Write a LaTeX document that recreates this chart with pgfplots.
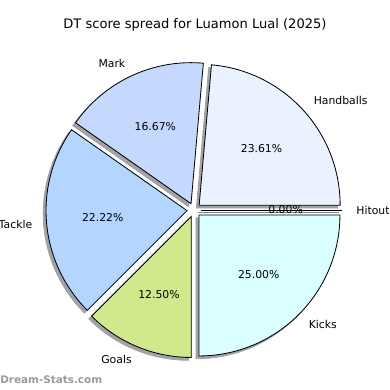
\documentclass[border=0pt]{standalone}
\usepackage{pgfplots}
\pgfplotsset{compat=1.18}
\usepackage{pgfplotstable}
\usepackage{fontspec}
\setmainfont{DejaVu Sans}
\definecolor{cA}{HTML}{EAF1FF}
\definecolor{cB}{HTML}{C5D9FF}
\definecolor{cC}{HTML}{B3D5FF}
\definecolor{cD}{HTML}{D0EA8B}
\definecolor{cE}{HTML}{D9FFFF}
\definecolor{shad}{HTML}{A2A3A6}
\definecolor{wm}{HTML}{9A9A9A}

\pgfplotstableread{
label value
Handballs 17
Mark 12
Tackle 16
Goals 9
Kicks 18
Hitout 0
}\datatable

\begin{document}
\begin{tikzpicture}[lab/.style={inner sep=0pt, font=\fontsize{7.8}{9}\selectfont}]
% read values
\pgfplotstablegetelem{0}{value}\of\datatable \let\vA\pgfplotsretval
\pgfplotstablegetelem{1}{value}\of\datatable \let\vB\pgfplotsretval
\pgfplotstablegetelem{2}{value}\of\datatable \let\vC\pgfplotsretval
\pgfplotstablegetelem{3}{value}\of\datatable \let\vD\pgfplotsretval
\pgfplotstablegetelem{4}{value}\of\datatable \let\vE\pgfplotsretval
\pgfplotstablegetelem{5}{value}\of\datatable \let\vF\pgfplotsretval
\pgfmathsetmacro\tot{\vA+\vB+\vC+\vD+\vE+\vF}
% geometry (pixel units, y up)
\def\cx{194}\def\cy{180}\def\R{141}\def\ex{7}\def\sh{2.8}
\pgfmathsetmacro\sA{0}
\pgfmathsetmacro\eA{\sA+\vA/\tot*360}
\pgfmathsetmacro\eB{\eA+\vB/\tot*360}
\pgfmathsetmacro\eC{\eB+\vC/\tot*360}
\pgfmathsetmacro\eD{\eC+\vD/\tot*360}
\pgfmathsetmacro\eE{\eD+\vE/\tot*360}
\pgfmathsetmacro\eF{\eE+\vF/\tot*360}
% centres of exploded slices
\pgfmathsetmacro\mA{(\sA+\eA)/2}\pgfmathsetmacro\mB{(\eA+\eB)/2}
\pgfmathsetmacro\mC{(\eB+\eC)/2}\pgfmathsetmacro\mD{(\eC+\eD)/2}
\pgfmathsetmacro\mE{(\eD+\eE)/2}\pgfmathsetmacro\mF{(\eE+\eF)/2}
\foreach \n in {A,B,C,D,E,F}{%
  \pgfmathsetmacro\tmpx{\cx+\ex*cos(\csname m\n\endcsname)}%
  \pgfmathsetmacro\tmpy{\cy+\ex*sin(\csname m\n\endcsname)}%
  \global\expandafter\let\csname px\n\endcsname\tmpx
  \global\expandafter\let\csname py\n\endcsname\tmpy
  \pgfmathsetmacro\tmpx{\tmpx-\sh}\pgfmathsetmacro\tmpy{\tmpy-\sh}%
  \global\expandafter\let\csname qx\n\endcsname\tmpx
  \global\expandafter\let\csname qy\n\endcsname\tmpy
  % label positions
  \pgfmathsetmacro\tmpx{\cx+(\ex+1.1*\R)*cos(\csname m\n\endcsname)}%
  \pgfmathsetmacro\tmpy{\cy+(\ex+1.1*\R)*sin(\csname m\n\endcsname)}%
  \global\expandafter\let\csname lx\n\endcsname\tmpx
  \global\expandafter\let\csname ly\n\endcsname\tmpy
  \pgfmathsetmacro\tmpx{\cx+(\ex+0.6*\R)*cos(\csname m\n\endcsname)}%
  \pgfmathsetmacro\tmpy{\cy+(\ex+0.6*\R)*sin(\csname m\n\endcsname)}%
  \global\expandafter\let\csname tx\n\endcsname\tmpx
  \global\expandafter\let\csname ty\n\endcsname\tmpy
}
\pgfmathsetmacro\rxF{\pxF+\R}\pgfmathsetmacro\qrxF{\qxF+\R}
\pgfmathsetmacro\pA{\vA/\tot*100}\pgfmathsetmacro\pB{\vB/\tot*100}
\pgfmathsetmacro\pC{\vC/\tot*100}\pgfmathsetmacro\pD{\vD/\tot*100}
\pgfmathsetmacro\pE{\vE/\tot*100}\pgfmathsetmacro\pF{\vF/\tot*100}
\def\pct#1{\pgfmathprintnumber[fixed,fixed zerofill,precision=2,assume math mode=true]{#1}\%}
\begin{axis}[
  width=280.8pt, height=280.8pt, scale only axis,
  xmin=0, xmax=390, ymin=0, ymax=390,
  hide axis, clip=false,
]
\coordinate (SW) at (axis cs:0,0);
\coordinate (NE) at (axis cs:390,390);
% shadows
\addplot[draw=shad, fill=shad, line width=0.6pt, domain=\sA:\eA, samples=90, variable=\t] ({\qxA+\R*cos(\t)},{\qyA+\R*sin(\t)}) -- (axis cs:\qxA,\qyA) -- cycle;
\addplot[draw=shad, fill=shad, line width=0.6pt, domain=\eA:\eB, samples=90, variable=\t] ({\qxB+\R*cos(\t)},{\qyB+\R*sin(\t)}) -- (axis cs:\qxB,\qyB) -- cycle;
\addplot[draw=shad, fill=shad, line width=0.6pt, domain=\eB:\eC, samples=90, variable=\t] ({\qxC+\R*cos(\t)},{\qyC+\R*sin(\t)}) -- (axis cs:\qxC,\qyC) -- cycle;
\addplot[draw=shad, fill=shad, line width=0.6pt, domain=\eC:\eD, samples=90, variable=\t] ({\qxD+\R*cos(\t)},{\qyD+\R*sin(\t)}) -- (axis cs:\qxD,\qyD) -- cycle;
\addplot[draw=shad, fill=shad, line width=0.6pt, domain=\eD:\eE, samples=90, variable=\t] ({\qxE+\R*cos(\t)},{\qyE+\R*sin(\t)}) -- (axis cs:\qxE,\qyE) -- cycle;
\addplot[draw=shad!80!black, line width=0.6pt] coordinates {(\qxF,\qyF) (\qrxF,\qyF)};
% slices
\addplot[draw=black, fill=cA, line width=0.6pt, domain=\sA:\eA, samples=90, variable=\t] ({\pxA+\R*cos(\t)},{\pyA+\R*sin(\t)}) -- (axis cs:\pxA,\pyA) -- cycle;
\addplot[draw=black, fill=cB, line width=0.6pt, domain=\eA:\eB, samples=90, variable=\t] ({\pxB+\R*cos(\t)},{\pyB+\R*sin(\t)}) -- (axis cs:\pxB,\pyB) -- cycle;
\addplot[draw=black, fill=cC, line width=0.6pt, domain=\eB:\eC, samples=90, variable=\t] ({\pxC+\R*cos(\t)},{\pyC+\R*sin(\t)}) -- (axis cs:\pxC,\pyC) -- cycle;
\addplot[draw=black, fill=cD, line width=0.6pt, domain=\eC:\eD, samples=90, variable=\t] ({\pxD+\R*cos(\t)},{\pyD+\R*sin(\t)}) -- (axis cs:\pxD,\pyD) -- cycle;
\addplot[draw=black, fill=cE, line width=0.6pt, domain=\eD:\eE, samples=90, variable=\t] ({\pxE+\R*cos(\t)},{\pyE+\R*sin(\t)}) -- (axis cs:\pxE,\pyE) -- cycle;
\addplot[draw=black, line width=0.6pt] coordinates {(\pxF,\pyF) (\rxF,\pyF)};
% labels
\node[lab, anchor=west] at (axis cs:\lxA,\lyA) {Handballs};
\node[lab, anchor=east] at (axis cs:\lxB,\lyB) {Mark};
\node[lab, anchor=east] at (axis cs:\lxC,\lyC) {Tackle};
\node[lab, anchor=east] at (axis cs:\lxD,\lyD) {Goals};
\node[lab, anchor=west] at (axis cs:\lxE,\lyE) {Kicks};
\node[lab, anchor=west] at (axis cs:\lxF,\lyF) {Hitout};
\node[lab] at (axis cs:\txA,\tyA) {\pct{\pA}};
\node[lab] at (axis cs:\txB,\tyB) {\pct{\pB}};
\node[lab] at (axis cs:\txC,\tyC) {\pct{\pC}};
\node[lab] at (axis cs:\txD,\tyD) {\pct{\pD}};
\node[lab] at (axis cs:\txE,\tyE) {\pct{\pE}};
\node[lab] at (axis cs:\txF,\tyF) {\pct{\pF}};
\node[inner sep=0pt, font=\fontsize{9.4}{11}\selectfont] at (axis cs:195,365) {DT score spread for Luamon Lual (2025)};
\node[anchor=west, inner sep=0pt, text=wm, font=\fontsize{7.5}{9}\selectfont\bfseries] at (axis cs:0,10) {Dream-Stats.com};
\end{axis}
\pgfresetboundingbox
\path[use as bounding box] (SW) rectangle (NE);
\end{tikzpicture}
\end{document}
